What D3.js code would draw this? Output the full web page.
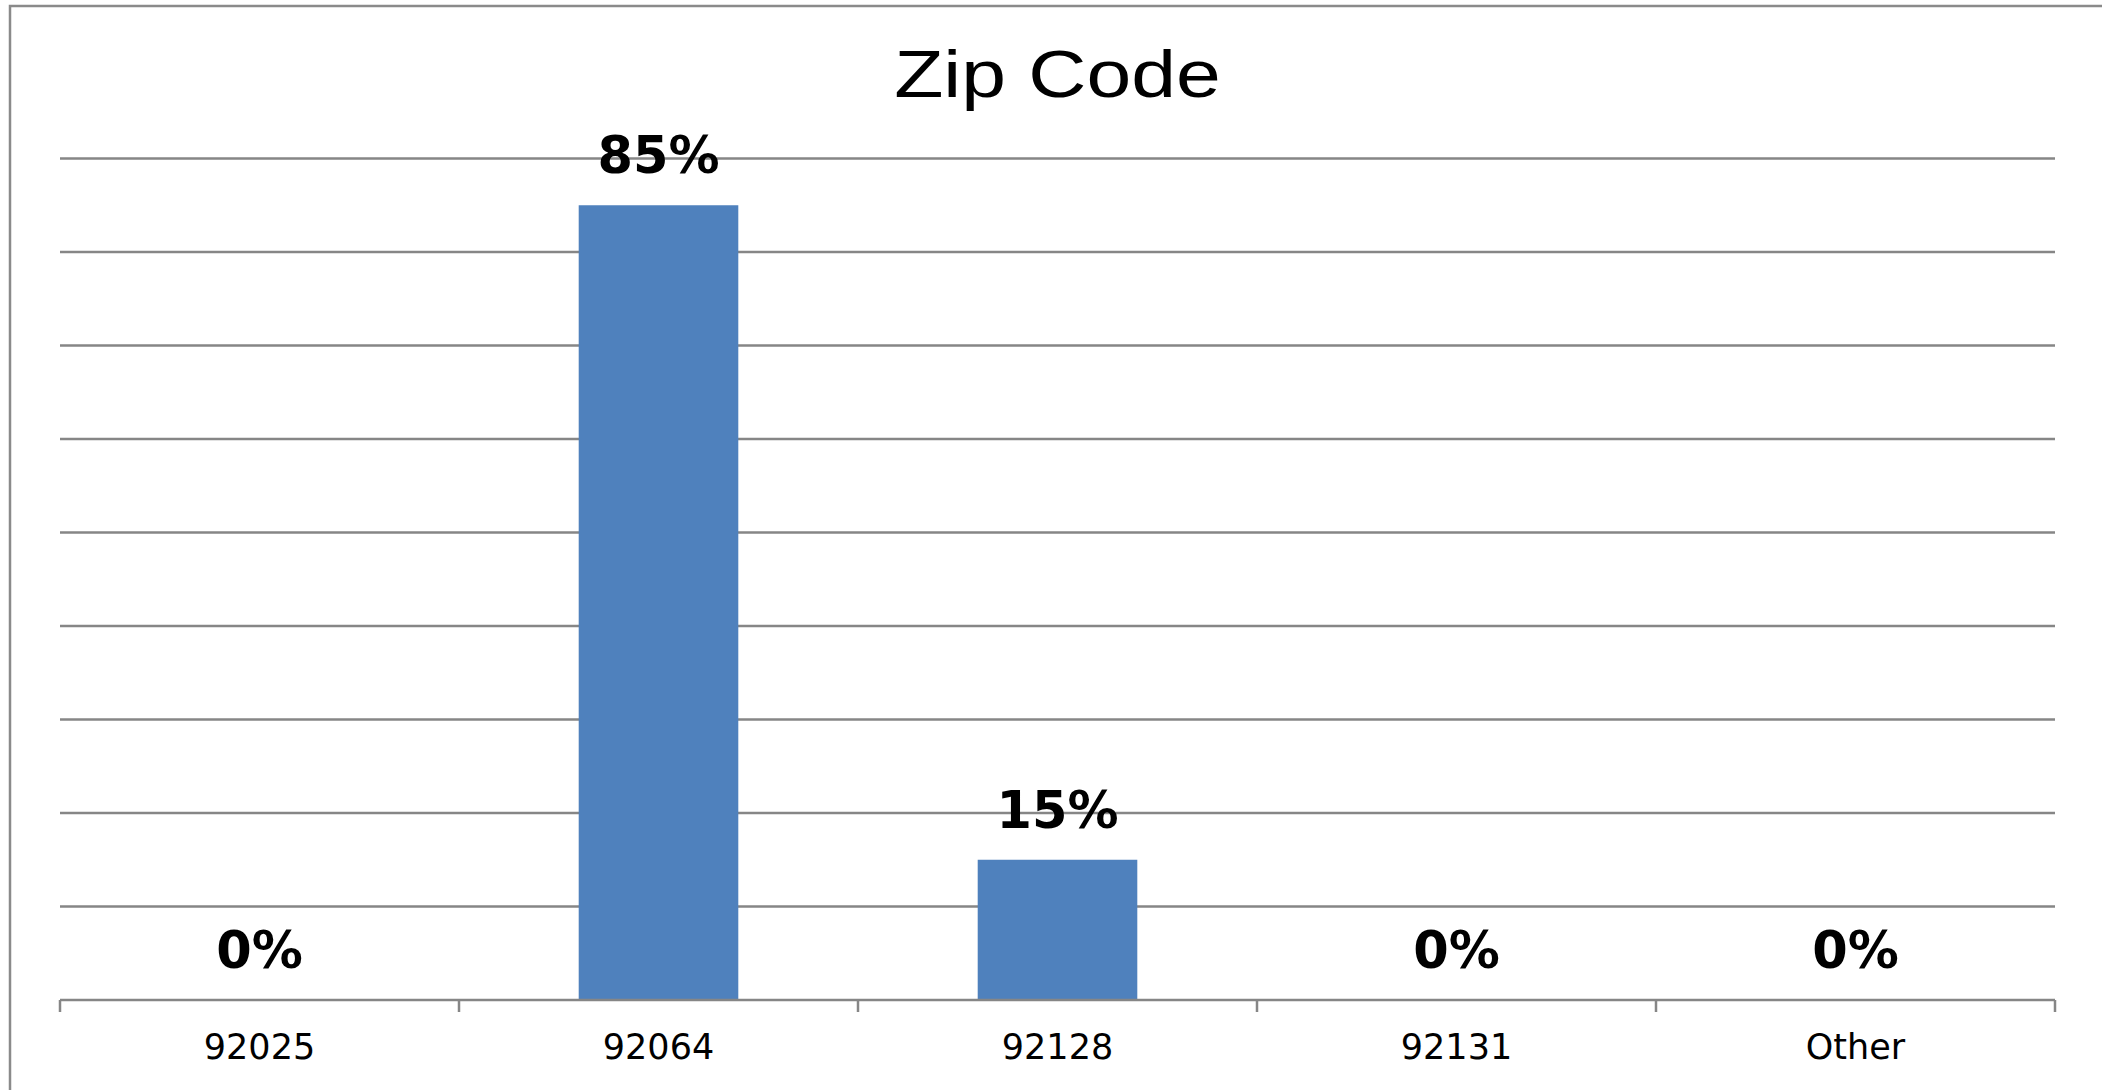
<!DOCTYPE html>
<html>
<head>
<meta charset="utf-8">
<script src="https://cdn.jsdelivr.net/npm/d3@7"></script>
<style>
  body { margin: 0; background: #fff; }
  svg { display: block; }
</style>
</head>
<body>
<div id="chart"></div>
<script>
// chart data
var categories = ["92025", "92064", "92128", "92131", "Other"];
var values = [0, 85, 15, 0, 0];
var gridValues = [10, 20, 30, 40, 50, 60, 70, 80, 90];
var title = "Zip Code";

var width = 2102, height = 1090;
var margin = {top: 158.5, right: 47, bottom: 90, left: 60};

var svg = d3.select("#chart").append("svg")
  .attr("width", width)
  .attr("height", height);

// outer chart frame (runs off the right and bottom edge)
svg.append("rect")
  .attr("x", 10)
  .attr("y", 6)
  .attr("width", width + 20)
  .attr("height", height + 20)
  .style("fill", "none")
  .style("stroke", "#8a8a8a")
  .style("stroke-width", 2.5);

var x = d3.scaleBand()
  .domain(categories)
  .range([margin.left, width - margin.right])
  .paddingInner(0.6)
  .paddingOuter(0.3);

var y = d3.scaleLinear()
  .domain([0, 90])
  .range([height - margin.bottom, margin.top]);

// horizontal gridlines
svg.append("g")
  .selectAll("line")
  .data(gridValues)
  .enter().append("line")
    .attr("x1", x.range()[0])
    .attr("x2", x.range()[1])
    .attr("y1", function(d) { return y(d); })
    .attr("y2", function(d) { return y(d); })
    .style("stroke", "#868686")
    .style("stroke-width", 2.5);

// bars
svg.append("g")
  .selectAll("rect")
  .data(values)
  .enter().append("rect")
    .attr("x", function(d, i) { return x(categories[i]); })
    .attr("y", function(d) { return y(d); })
    .attr("width", x.bandwidth())
    .attr("height", function(d) { return y(0) - y(d); })
    .style("fill", "#4f81bd");

// category axis line with ticks at the category boundaries
var axis = svg.append("g");
axis.append("line")
  .attr("x1", x.range()[0])
  .attr("x2", x.range()[1])
  .attr("y1", y(0))
  .attr("y2", y(0))
  .style("stroke", "#868686")
  .style("stroke-width", 2.5);

axis.selectAll(".tick")
  .data(d3.range(categories.length + 1))
  .enter().append("line")
    .attr("class", "tick")
    .attr("x1", function(i) { return x.range()[0] + i * x.step(); })
    .attr("x2", function(i) { return x.range()[0] + i * x.step(); })
    .attr("y1", y(0))
    .attr("y2", y(0) + 12)
    .style("stroke", "#868686")
    .style("stroke-width", 2.5);

axis.selectAll(".label")
  .data(categories)
  .enter().append("text")
    .attr("class", "label")
    .attr("x", function(d) { return x(d) + x.bandwidth() / 2; })
    .attr("y", 1059)
    .attr("text-anchor", "middle")
    .style("font-family", "'DejaVu Sans', sans-serif")
    .style("font-size", "35px")
    .style("fill", "#000")
    .text(function(d) { return d; });

// value labels above the bars
svg.append("g")
  .selectAll("text")
  .data(values)
  .enter().append("text")
    .attr("x", function(d, i) { return x(categories[i]) + x.bandwidth() / 2; })
    .attr("y", function(d) { return y(d) - 32; })
    .attr("text-anchor", "middle")
    .style("font-family", "'DejaVu Sans', sans-serif")
    .style("font-weight", "bold")
    .style("font-size", "51px")
    .style("fill", "#000")
    .text(function(d) { return d + "%"; });

// title, slightly stretched like the original
svg.append("text")
  .attr("transform", "translate(" + ((x.range()[0] + x.range()[1]) / 2) + ",97) scale(1.22,1)")
  .attr("text-anchor", "middle")
  .style("font-family", "'Liberation Sans', Arial, sans-serif")
  .style("font-size", "66px")
  .style("fill", "#000")
  .text(title);
</script>
</body>
</html>
